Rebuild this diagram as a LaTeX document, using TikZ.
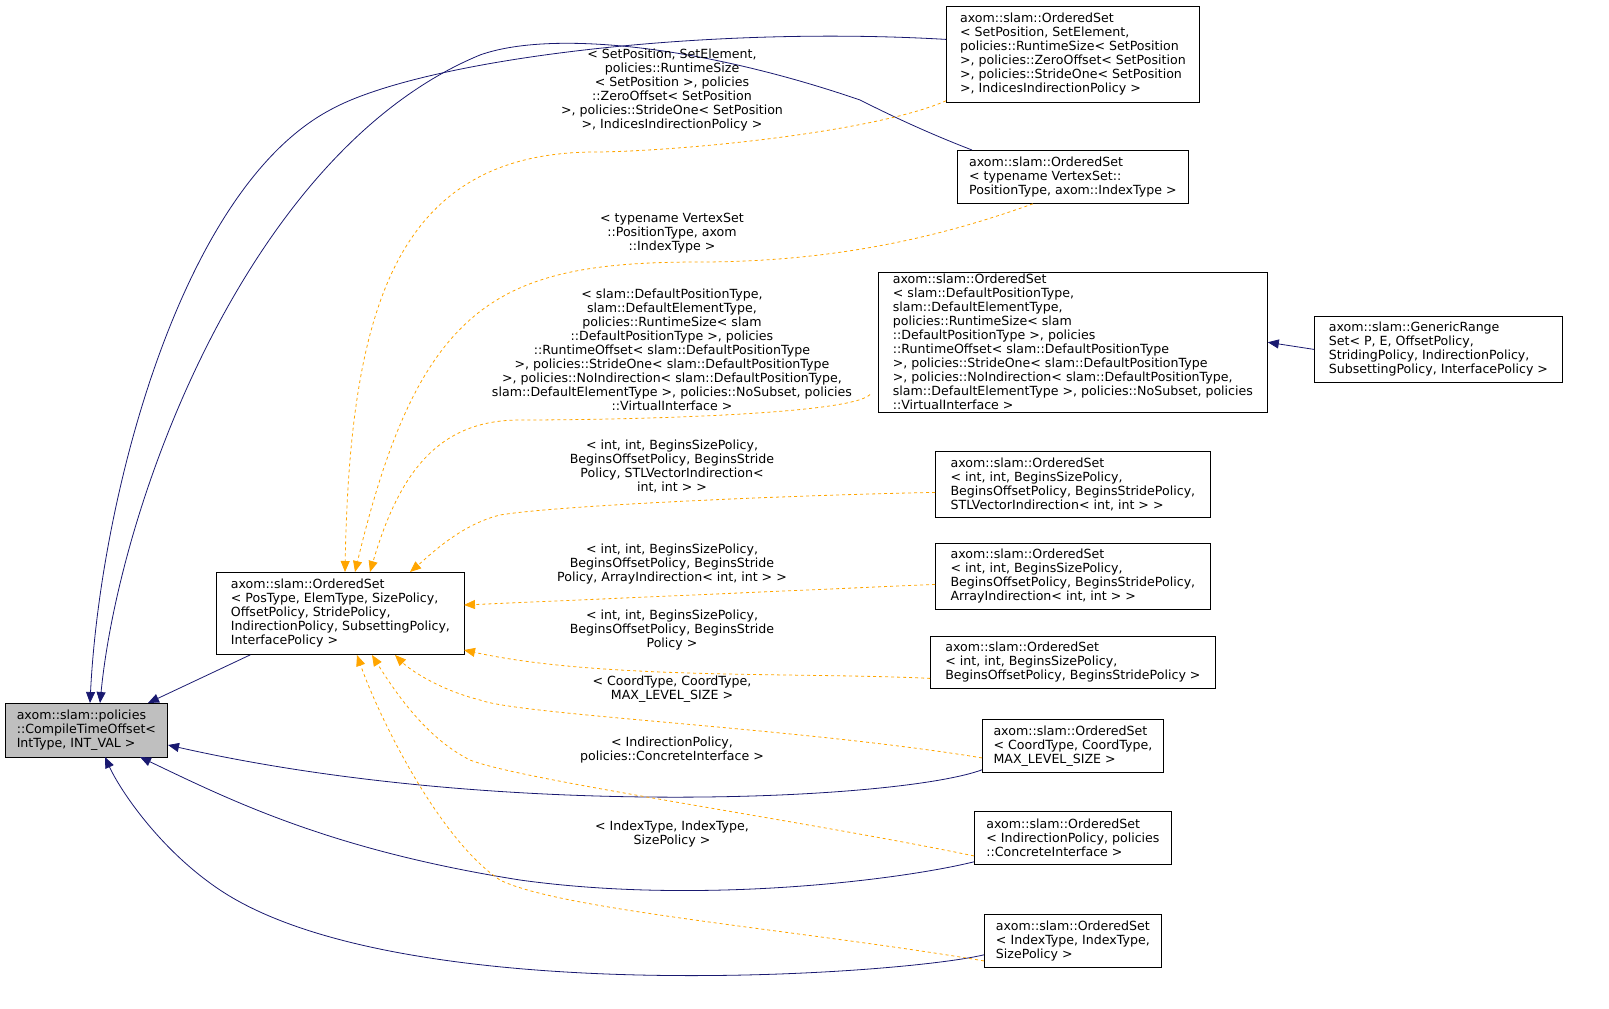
\documentclass[tikz,border=0pt]{standalone}
\usepackage{fontspec}
\setmainfont{DejaVu Sans}
\usetikzlibrary{arrows.meta}
\definecolor{dorange}{RGB}{255,165,0}
\definecolor{dnavy}{RGB}{25,25,112}
\begin{document}
\begin{tikzpicture}[x=1pt,y=-1pt,
 every node/.style={font=\fontsize{12.6}{14}\selectfont},
 box/.style={draw,thick,align=left,inner sep=2pt,anchor=north west},
 lbl/.style={align=center,inner sep=0pt},
 inh/.style={draw=dnavy,thick,-{Triangle[length=11pt,width=9pt]}},
 tpl/.style={draw=dorange,dashed,thick,-{Triangle[length=11pt,width=9pt]}}]
\useasboundingbox (0,0) rectangle (1609,1009);
\node[box,fill={rgb,255:red,191;green,191;blue,191},minimum width=162,minimum height=54] (base) at (5,703) {axom::slam::policies\\::CompileTimeOffset<\\IntType, INT\_VAL >};
\node[box,minimum width=248,minimum height=82] (main) at (216,572) {axom::slam::OrderedSet\\< PosType, ElemType, SizePolicy,\\ OffsetPolicy, StridePolicy,\\ IndirectionPolicy, SubsettingPolicy,\\ InterfacePolicy >};
\node[box,minimum width=253,minimum height=96] (A) at (946,6) {axom::slam::OrderedSet\\< SetPosition, SetElement,\\ policies::RuntimeSize< SetPosition\\ >, policies::ZeroOffset< SetPosition\\ >, policies::StrideOne< SetPosition\\ >, IndicesIndirectionPolicy >};
\node[box,minimum width=231,minimum height=53] (B) at (957,150) {axom::slam::OrderedSet\\< typename VertexSet::\\PositionType, axom::IndexType >};
\node[box,minimum width=389,minimum height=126] (C) at (878,272) {axom::slam::OrderedSet\\< slam::DefaultPositionType,\\ slam::DefaultElementType,\\ policies::RuntimeSize< slam\\::DefaultPositionType >, policies\\::RuntimeOffset< slam::DefaultPositionType\\ >, policies::StrideOne< slam::DefaultPositionType\\ >, policies::NoIndirection< slam::DefaultPositionType,\\ slam::DefaultElementType >, policies::NoSubset, policies\\::VirtualInterface >};
\node[box,minimum width=248,minimum height=66] (GR) at (1314,316) {axom::slam::GenericRange\\Set< P, E, OffsetPolicy,\\ StridingPolicy, IndirectionPolicy,\\ SubsettingPolicy, InterfacePolicy >};
\node[box,minimum width=275,minimum height=66] (D) at (935,451) {axom::slam::OrderedSet\\< int, int, BeginsSizePolicy,\\ BeginsOffsetPolicy, BeginsStridePolicy,\\ STLVectorIndirection< int, int > >};
\node[box,minimum width=275,minimum height=66] (E) at (935,543) {axom::slam::OrderedSet\\< int, int, BeginsSizePolicy,\\ BeginsOffsetPolicy, BeginsStridePolicy,\\ ArrayIndirection< int, int > >};
\node[box,minimum width=285,minimum height=52] (F) at (930,636) {axom::slam::OrderedSet\\< int, int, BeginsSizePolicy,\\ BeginsOffsetPolicy, BeginsStridePolicy >};
\node[box,minimum width=181,minimum height=53] (G) at (982,719) {axom::slam::OrderedSet\\< CoordType, CoordType,\\ MAX\_LEVEL\_SIZE >};
\node[box,minimum width=197,minimum height=53] (H) at (974,811) {axom::slam::OrderedSet\\< IndirectionPolicy, policies\\::ConcreteInterface >};
\node[box,minimum width=177,minimum height=53] (I) at (984,914) {axom::slam::OrderedSet\\< IndexType, IndexType,\\ SizePolicy >};
% inheritance
\path[inh] (A.west) ++(0,-15) .. controls (700,25) and (420,60) .. (330,110) .. controls (180,190) and (100,500) .. (90,703);
\path[inh] (B.north west) ++(15,0) .. controls (920,130) and (880,110) .. (860,100) .. controls (700,45) and (550,30) .. (480,55) .. controls (250,150) and (120,500) .. (100,703);
\path[inh] (main.south) ++(-90,0) -- (148,703);
\path[inh] (G.south west) ++(0,-3) .. controls (900,800) and (500,820) .. (168,745);
\path[inh] (H.south west) ++(0,-3) .. controls (900,880) and (700,905) .. (520,880) .. controls (330,850) and (230,800) .. (140,757);
\path[inh] (I.south west) ++(0,-13) .. controls (900,975) and (400,1010) .. (220,890) .. controls (160,850) and (120,790) .. (105,757);
\path[inh] (GR.west) -- (C.east);
% template instances
\path[tpl] (A.south west) ++(0,-2) .. controls (880,130) and (700,150) .. (600,152) .. controls (400,150) and (350,300) .. (345,572);
\path[tpl] (B.south) ++(-40,0) .. controls (960,230) and (850,262) .. (700,262) .. controls (500,262) and (420,300) .. (355,572);
\path[tpl] (C.south west) ++(-8,-18) .. controls (850,415) and (620,420) .. (520,420) .. controls (440,420) and (400,470) .. (370,572);
\path[tpl] (D.west) ++(0,8) .. controls (800,495) and (560,505) .. (500,515) .. controls (460,525) and (430,555) .. (410,572);
\path[tpl] (E.west) ++(0,8) -- (464,605);
\path[tpl] (F.west) ++(0,16) .. controls (800,672) and (600,680) .. (464,650);
\path[tpl] (G.west) ++(0,12) .. controls (800,728) and (520,715) .. (480,700) .. controls (440,690) and (410,670) .. (395,655);
\path[tpl] (H.west) ++(0,18) .. controls (800,820) and (520,780) .. (470,760) .. controls (430,740) and (400,700) .. (372,655);
\path[tpl] (I.west) ++(0,20) .. controls (800,930) and (560,910) .. (500,880) .. controls (440,840) and (380,720) .. (357,655);
% labels
\node[lbl] (la) at (672,90) {< SetPosition, SetElement,\\policies::RuntimeSize\\< SetPosition >, policies\\::ZeroOffset< SetPosition\\ >, policies::StrideOne< SetPosition\\ >, IndicesIndirectionPolicy >};
\node[lbl] (lb) at (672,233) {< typename VertexSet\\::PositionType, axom\\::IndexType >};
\node[lbl] (lc) at (672,350) {< slam::DefaultPositionType,\\slam::DefaultElementType,\\policies::RuntimeSize< slam\\::DefaultPositionType >, policies\\::RuntimeOffset< slam::DefaultPositionType\\ >, policies::StrideOne< slam::DefaultPositionType\\ >, policies::NoIndirection< slam::DefaultPositionType,\\ slam::DefaultElementType >, policies::NoSubset, policies\\::VirtualInterface >};
\node[lbl] (ld) at (672,466) {< int, int, BeginsSizePolicy,\\BeginsOffsetPolicy, BeginsStride\\Policy, STLVectorIndirection<\\int, int > >};
\node[lbl] (le) at (672,564) {< int, int, BeginsSizePolicy,\\BeginsOffsetPolicy, BeginsStride\\Policy, ArrayIndirection< int, int > >};
\node[lbl] (lf) at (672,630) {< int, int, BeginsSizePolicy,\\BeginsOffsetPolicy, BeginsStride\\Policy >};
\node[lbl] (lg) at (672,689) {< CoordType, CoordType,\\MAX\_LEVEL\_SIZE >};
\node[lbl] (lh) at (672,750) {< IndirectionPolicy,\\policies::ConcreteInterface >};
\node[lbl] (li) at (672,834) {< IndexType, IndexType,\\SizePolicy >};
\end{tikzpicture}
\end{document}
